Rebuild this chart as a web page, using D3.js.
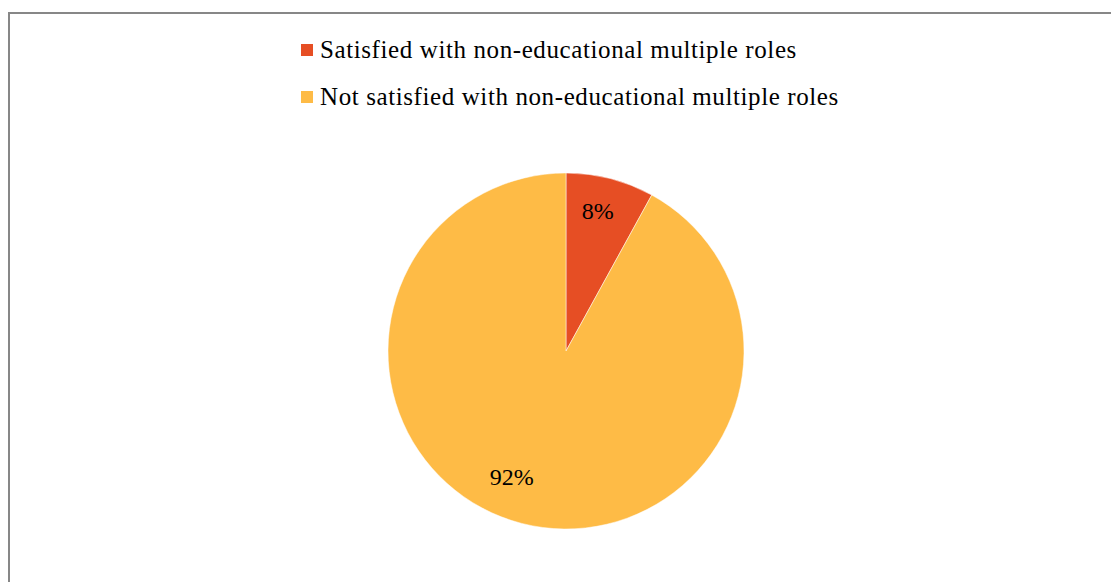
<!DOCTYPE html>
<html>
<head>
<meta charset="utf-8">
<script src="https://cdn.jsdelivr.net/npm/d3@7/dist/d3.min.js"></script>
<style>
  html, body { margin: 0; padding: 0; background: #fff; }
  svg { display: block; }
  .lbltext { font-family: "Times New Roman", "Liberation Serif", "Liberation Sans", serif; }
</style>
</head>
<body>
<script>
// Survey responses about non-educational multiple roles
const categories = [
  "Satisfied with non-educational multiple roles",
  "Not satisfied with non-educational multiple roles"
];
const values = [8, 92];
const colors = ["#E64E24", "#FEBB46"];

const width = 1111, height = 582;
const svg = d3.select("body").append("svg")
  .attr("width", width).attr("height", height);

// Chart frame (runs off the right and bottom edges)
svg.append("rect")
  .attr("x", 9).attr("y", 13)
  .attr("width", 1200).attr("height", 700)
  .attr("fill", "#fff")
  .attr("stroke", "#878787")
  .attr("stroke-width", 2);

// Legend
const legend = svg.append("g").attr("transform", "translate(301,0)");
categories.forEach((c, i) => {
  const y = 50 + i * 47;
  legend.append("rect")
    .attr("x", 0).attr("y", y - 6)
    .attr("width", 12).attr("height", 12)
    .attr("fill", colors[i]);
  legend.append("text")
    .attr("class", "lbltext")
    .attr("x", 19).attr("y", y + 8)
    .attr("font-size", 25)
    .attr("letter-spacing", 0.6)
    .attr("fill", "#000")
    .text(c);
});

// Pie
const cx = 566, cy = 351, r = 178;
const pie = d3.pie().sort(null).value(d => d);
const arcs = pie(values);
const arc = d3.arc().innerRadius(0).outerRadius(r);

const g = svg.append("g").attr("transform", `translate(${cx},${cy})`);
g.selectAll("path")
  .data(arcs)
  .join("path")
  .attr("d", arc)
  .attr("fill", (d, i) => colors[i])
  .attr("stroke", "#fff")
  .attr("stroke-width", 0.5);

// Percentage labels, placed inside each slice
const labelRadius = [0.81, 0.77];
const labelShift = [-0.03, 0.155];
g.selectAll("text.lbl")
  .data(arcs)
  .join("text")
  .attr("class", "lbl lbltext")
  .attr("transform", (d, i) => {
    const a = (d.startAngle + d.endAngle) / 2 + labelShift[i];
    const rr = r * labelRadius[i];
    return `translate(${rr * Math.sin(a)},${-rr * Math.cos(a)})`;
  })
  .attr("text-anchor", "middle")
  .attr("dy", "0.35em")
  .attr("font-size", 24)
  .attr("fill", "#000")
  .text(d => d.data + "%");
</script>
</body>
</html>
